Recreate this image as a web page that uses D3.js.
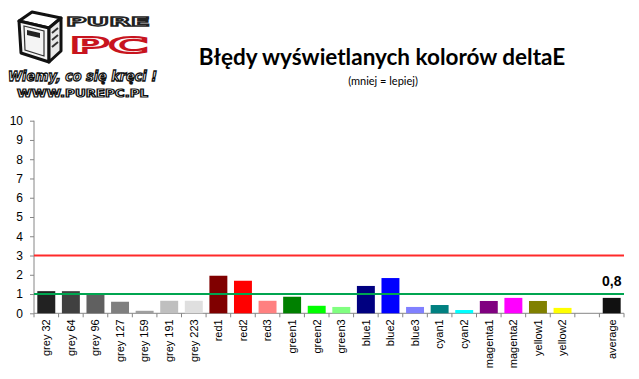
<!DOCTYPE html>
<html>
<head>
<meta charset="utf-8">
<script src="https://cdn.jsdelivr.net/npm/d3@7"></script>
<style>
body { margin: 0; background: #fff; }
svg { display: block; }
.axis path, .axis line { stroke: #868686; }
.axis text { font-family: "Liberation Sans", Arial, sans-serif; font-size: 11px; fill: #000; }
.yaxis text { font-size: 12px; }
</style>
</head>
<body>
<svg id="chart" width="639" height="379"></svg>
<script>
var categories = ["grey 32", "grey 64", "grey 96", "grey 127", "grey 159", "grey 191", "grey 223",
  "red1", "red2", "red3", "green1", "green2", "green3", "blue1", "blue2", "blue3",
  "cyan1", "cyan2", "magenta1", "magenta2", "yellow1", "yellow2", "", "average"];
var values = [1.15, 1.15, 1.05, 0.6, 0.13, 0.65, 0.65,
  1.95, 1.69, 0.65, 0.86, 0.39, 0.33, 1.42, 1.83, 0.33,
  0.43, 0.17, 0.64, 0.8, 0.64, 0.28, null, 0.8];
var colors = ["#222222", "#404040", "#606060", "#7f7f7f", "#9f9f9f", "#bfbfbf", "#dfdfdf",
  "#800000", "#ff0000", "#ff8080", "#008000", "#00ff00", "#80ff80", "#000080", "#0000ff", "#8080ff",
  "#008080", "#00ffff", "#800080", "#ff00ff", "#808000", "#ffff00", "none", "#111111"];
var yTicks = [0, 1, 2, 3, 4, 5, 6, 7, 8, 9, 10];
var limits = [{ value: 3, color: "#ff2a2a" }, { value: 1, color: "#00a550" }];
var avgLabel = "0,8";

var svg = d3.select("#chart");
var margin = { top: 120.7, left: 34, right: 15, bottom: 65.7 };
var width = 639 - margin.left - margin.right,
    height = 379 - margin.top - margin.bottom;

var g = svg.append("g")
  .attr("transform", "translate(" + margin.left + "," + margin.top + ")");

var x = d3.scaleBand().domain(d3.range(categories.length)).range([0, width]).paddingInner(0.27).paddingOuter(0.135);
var y = d3.scaleLinear().domain([0, 10]).range([height, 0]);

// logo (rough sketch of the PurePC badge)
var logo = svg.append("g");
logo.append("path")
  .attr("d", "M19,21 L32,12 L61,18 L49,28 Z")
  .attr("fill", "#fff").attr("stroke", "#111").attr("stroke-width", 3).attr("stroke-linejoin", "round");
logo.append("path")
  .attr("d", "M19,21 L49,28 L49,62 L21,53 Z")
  .attr("fill", "#f4f4f4").attr("stroke", "#111").attr("stroke-width", 3).attr("stroke-linejoin", "round");
logo.append("path")
  .attr("d", "M49,28 L61,18 L61,51 L49,62 Z")
  .attr("fill", "#e8e8e8").attr("stroke", "#111").attr("stroke-width", 3).attr("stroke-linejoin", "round");
logo.append("path")
  .attr("d", "M24,26 L44,31 L44,56 L25,50 Z")
  .attr("fill", "none").attr("stroke", "#333").attr("stroke-width", 1.2);
logo.append("path")
  .attr("d", "M27,30 L40,33 L40,38 L27,35 Z")
  .attr("fill", "#222");
logo.append("path")
  .attr("d", "M52,33 L58,28 M52,40 L58,35 M52,47 L58,42")
  .attr("stroke", "#333").attr("stroke-width", 2);
logo.append("text").attr("x", 66).attr("y", 26).attr("textLength", 84).attr("lengthAdjust", "spacingAndGlyphs")
  .style("font-family", "DejaVu Sans, sans-serif").style("font-size", "13px").style("font-weight", "bold")
  .attr("fill", "#fff").attr("stroke", "#222").attr("stroke-width", 1.4)
  .text("PURE");
logo.append("text").attr("x", 70).attr("y", 53).attr("textLength", 78).attr("lengthAdjust", "spacingAndGlyphs")
  .style("font-family", "DejaVu Sans, sans-serif").style("font-size", "22px").style("font-weight", "bold")
  .attr("fill", "#fff").attr("stroke", "#c8141e").attr("stroke-width", 2.2)
  .text("PC");
logo.append("text").attr("x", 8).attr("y", 81).attr("textLength", 149).attr("lengthAdjust", "spacingAndGlyphs")
  .style("font-family", "DejaVu Sans, sans-serif").style("font-size", "14px").style("font-weight", "bold").style("font-style", "italic")
  .attr("fill", "#fff").attr("stroke", "#111").attr("stroke-width", 1.3)
  .text("Wiemy, co się kręci !");
logo.append("text").attr("x", 17).attr("y", 97).attr("textLength", 131).attr("lengthAdjust", "spacingAndGlyphs")
  .style("font-family", "DejaVu Sans, sans-serif").style("font-size", "10px").style("font-weight", "bold")
  .attr("fill", "#fff").attr("stroke", "#111").attr("stroke-width", 1.1)
  .text("WWW.PUREPC.PL");

// title
svg.append("text").attr("x", 382).attr("y", 65).attr("text-anchor", "middle")
  .style("font-family", "Lato, 'Open Sans', sans-serif").style("font-size", "22.5px").style("font-weight", "bold")
  .text("Błędy  wyświetlanych kolorów deltaE");
svg.append("text").attr("x", 383).attr("y", 85).attr("text-anchor", "middle")
  .style("font-family", "Lato, 'Open Sans', sans-serif").style("font-size", "11px")
  .text("(mniej = lepiej)");

// axes
var yAxis = d3.axisLeft(y).tickValues(yTicks).tickSize(4).tickPadding(7);
g.append("g").attr("class", "axis yaxis").call(yAxis)
  .call(function (s) { s.select(".domain").attr("d", "M0,0V" + height); });

var xAxis = d3.axisBottom(x).tickSize(0).tickFormat(function (i) { return categories[i]; });
var xg = g.append("g").attr("class", "axis").attr("transform", "translate(0," + height + ")").call(xAxis);
xg.select(".domain").attr("d", "M0,0H" + width);
xg.selectAll(".tick text")
  .attr("transform", "rotate(-90)")
  .attr("text-anchor", "end")
  .attr("x", -6).attr("y", 0).attr("dy", "0.35em");
// tick marks between categories
xg.selectAll(".sep").data(d3.range(categories.length + 1)).enter().append("line")
  .attr("class", "sep")
  .attr("x1", function (i) { return i * x.step(); })
  .attr("x2", function (i) { return i * x.step(); })
  .attr("y1", 0).attr("y2", 4)
  .attr("stroke", "#868686");

// bars
var barData = values.map(function (v, i) { return { i: i, v: v, c: colors[i] }; })
  .filter(function (d) { return d.v !== null; });
g.selectAll(".bar").data(barData).enter().append("rect")
  .attr("class", "bar")
  .attr("x", function (d) { return x(d.i); })
  .attr("y", function (d) { return y(d.v); })
  .attr("width", x.bandwidth())
  .attr("height", function (d) { return height - y(d.v); })
  .attr("fill", function (d) { return d.c; });

// limit lines
g.selectAll(".limit").data(limits).enter().append("line")
  .attr("x1", 0).attr("x2", width)
  .attr("y1", function (d) { return y(d.value); })
  .attr("y2", function (d) { return y(d.value); })
  .attr("stroke", function (d) { return d.color; })
  .attr("stroke-width", 2);

// average label
var last = categories.length - 1;
g.append("text")
  .attr("x", x(last) + x.bandwidth() / 2)
  .attr("y", y(values[last]) - 12)
  .attr("text-anchor", "middle")
  .style("font-family", "'Liberation Sans', Arial, sans-serif").style("font-size", "14px").style("font-weight", "bold")
  .text(avgLabel);
</script>
</body>
</html>
